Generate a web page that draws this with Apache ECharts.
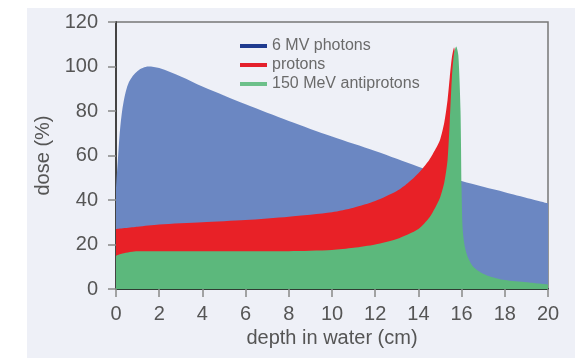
<!DOCTYPE html>
<html>
<head>
<meta charset="utf-8">
<script src="https://cdn.jsdelivr.net/npm/echarts@6/dist/echarts.min.js"></script>
<style>
  html, body { margin: 0; padding: 0; background: #fff; }
  #panel { position: absolute; left: 27px; top: 8px; width: 548px; height: 350px; background: #eef0f7; }
  #chart { position: absolute; left: 0; top: 0; width: 575px; height: 358px; }
</style>
</head>
<body>
<div id="panel"></div>
<div id="chart"></div>
<script>
// depth in water (cm) vs dose (%)
const photonDepth = [0, 0.1, 0.2, 0.35, 0.6, 1.0, 1.5, 2, 3, 4, 5, 6, 8, 10, 12, 13, 14, 16, 18, 20];
const photonDose  = [45, 60, 73, 84, 93, 98, 100, 99.3, 95.5, 91, 87, 83, 75.5, 68.5, 62, 58.5, 55, 48.5, 43.5, 38.5];

const protonDepth = [0, 1, 2, 4, 6, 8, 10, 11, 12, 13, 13.5, 14, 14.5, 14.8, 15, 15.2, 15.35, 15.45, 15.55, 15.65, 15.75, 15.9, 16.0, 16.1, 16.3];
const protonDose  = [27, 28, 29, 30, 31, 32.5, 34.5, 36.5, 39.5, 44, 47.5, 52, 58, 63, 67, 75, 85, 95, 104, 108.5, 100, 60, 20, 5, 0];

const antiDepth = [0, 0.3, 1, 2, 4, 6, 8, 10, 11, 12, 13, 14, 14.5, 14.8, 15, 15.2, 15.35, 15.45, 15.55, 15.65, 15.75, 15.85, 15.95, 16.0, 16.05, 16.15, 16.3, 16.5, 16.8, 17.2, 18, 19, 20];
const antiDose  = [15, 16, 17, 17, 17, 17, 17, 17.5, 18.5, 20, 22.5, 27, 32, 37, 41, 48, 58, 75, 95, 106, 109, 105, 80, 45, 27, 19, 14, 10.5, 8, 6, 4, 3, 2];

const depthTicks = [0, 2, 4, 6, 8, 10, 12, 14, 16, 18, 20];
const doseTicks = [0, 20, 40, 60, 80, 100, 120];

const names = ['6 MV photons', 'protons', '150 MeV antiprotons'];

function pairs(xs, ys) { return xs.map((x, i) => [x, ys[i]]); }

const chart = echarts.init(document.getElementById('chart'));
const labelFont = { fontFamily: 'Liberation Sans', fontSize: 20, color: '#555' };

chart.setOption({
  animation: false,
  backgroundColor: 'transparent',
  grid: { left: 116, right: 27, top: 22, bottom: 69, show: true, borderColor: '#777', borderWidth: 1.5 },
  legend: {
    orient: 'vertical',
    left: 235, top: 33,
    icon: 'rect', itemWidth: 27, itemHeight: 4, itemGap: 3,
    textStyle: { fontFamily: 'Liberation Sans', fontSize: 16, color: '#6a6a6a' },
    data: [
      { name: names[0], itemStyle: { color: '#1f3b8f' } },
      { name: names[1], itemStyle: { color: '#e4202c' } },
      { name: names[2], itemStyle: { color: '#6cc08a' } }
    ]
  },
  xAxis: {
    type: 'value', min: depthTicks[0], max: depthTicks[depthTicks.length - 1], interval: 2,
    name: 'depth in water (cm)', nameLocation: 'middle', nameGap: 38,
    nameTextStyle: labelFont,
    axisLine: { lineStyle: { color: '#2f3d33', width: 2 } },
    axisTick: { length: 8, lineStyle: { color: '#888', width: 1.5 } },
    axisLabel: Object.assign({ margin: 15 }, labelFont),
    splitLine: { show: false }
  },
  yAxis: {
    type: 'value', min: doseTicks[0], max: doseTicks[doseTicks.length - 1], interval: 20,
    name: 'dose (%)', nameLocation: 'middle', nameGap: 62,
    nameTextStyle: labelFont,
    axisLine: { lineStyle: { color: '#444', width: 2 } },
    axisTick: { length: 8, lineStyle: { color: '#888', width: 1.5 } },
    axisLabel: Object.assign({ margin: 18 }, labelFont),
    splitLine: { show: false }
  },
  series: [
    {
      name: names[0], type: 'line', data: pairs(photonDepth, photonDose),
      smooth: 0.3, symbol: 'none',
      lineStyle: { width: 0 }, itemStyle: { color: '#6b87c2' },
      areaStyle: { color: '#6b87c2', opacity: 1 }, z: 1
    },
    {
      name: names[1], type: 'line', data: pairs(protonDepth, protonDose),
      smooth: 0.25, symbol: 'none',
      lineStyle: { width: 0 }, itemStyle: { color: '#e82127' },
      areaStyle: { color: '#e82127', opacity: 1 }, z: 2
    },
    {
      name: names[2], type: 'line', data: pairs(antiDepth, antiDose),
      smooth: 0.25, symbol: 'none',
      lineStyle: { width: 0 }, itemStyle: { color: '#5cb87c' },
      areaStyle: { color: '#5cb87c', opacity: 1 }, z: 3
    }
  ]
});
</script>
</body>
</html>
